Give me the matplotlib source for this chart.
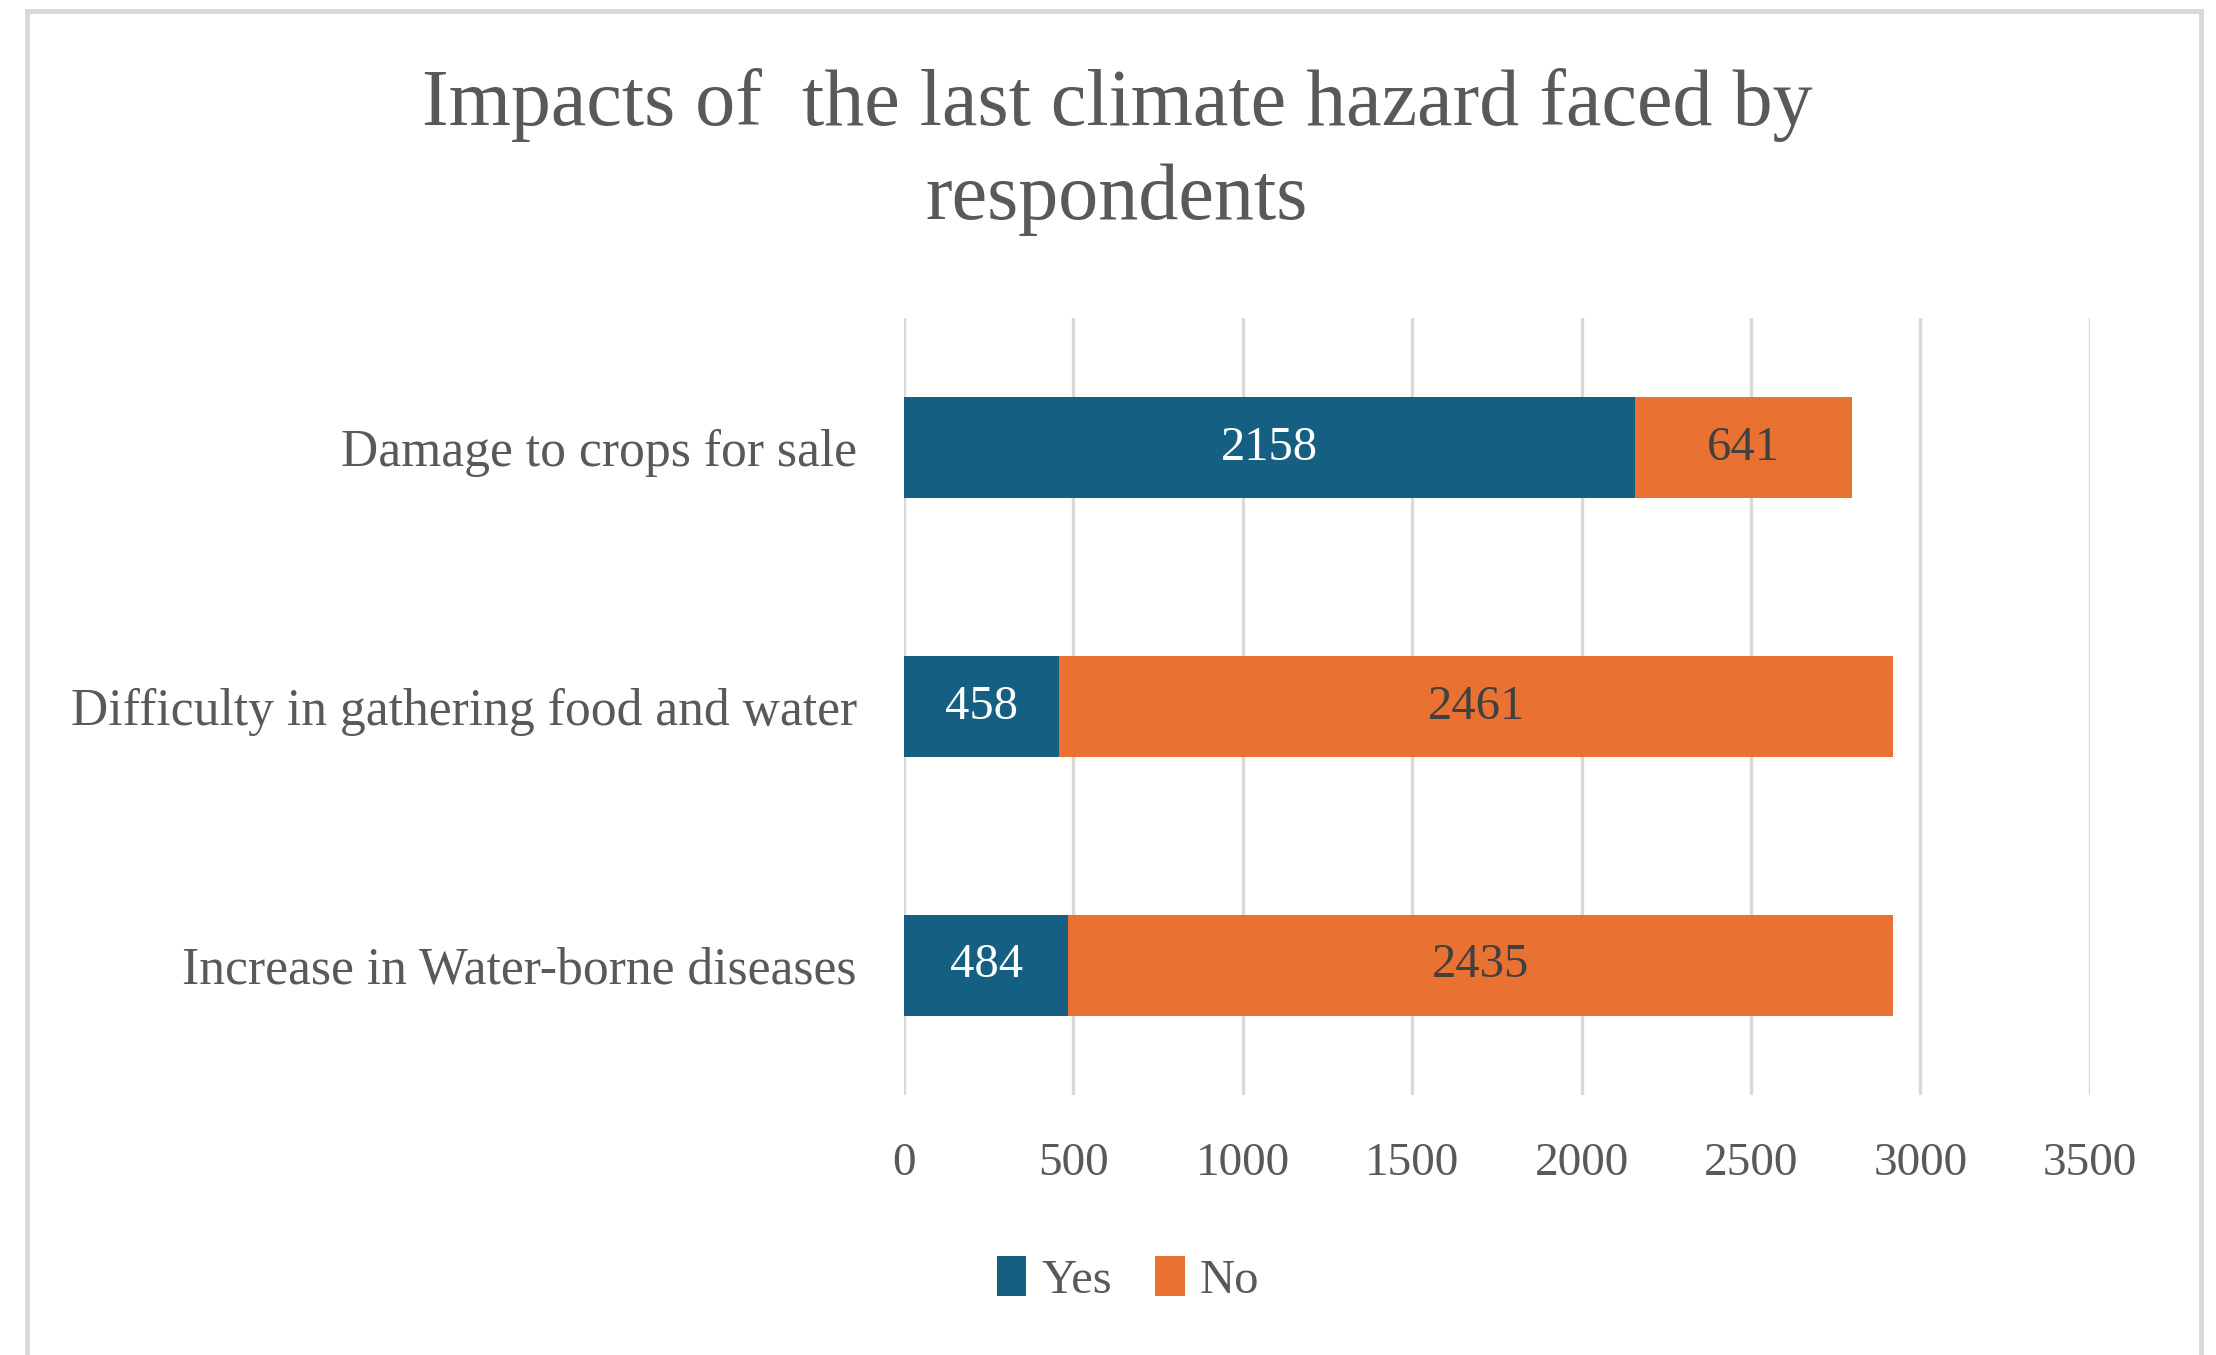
import matplotlib
matplotlib.use("Agg")
from matplotlib import pyplot as plt
from matplotlib.patches import Rectangle

# chart data
categories = ['Increase in Water-borne diseases',
              'Difficulty in gathering food and water',
              'Damage to crops for sale']
yes_values = [484, 458, 2158]
no_values = [2435, 2461, 641]
x_ticks = [0, 500, 1000, 1500, 2000, 2500, 3000, 3500]
title = 'Impacts of  the last climate hazard faced by\nrespondents'

blue = '#156082'
orange = '#E97132'
grey_text = '#595959'
grid_grey = '#D9D9D9'
serif = ['Liberation Serif', 'DejaVu Serif']

fig = plt.figure(figsize=(11.08, 6.775), dpi=200)
ax = fig.add_axes([0.408, 0.192, 0.535, 0.573])

# outer chart frame
fig.patches.append(Rectangle((0.0122, -0.1), 0.9810, 1.092, transform=fig.transFigure,
                             fill=False, edgecolor=grid_grey, linewidth=1.8, zorder=0))

ypos = list(range(len(categories)))
b1 = ax.barh(ypos, yes_values, height=0.39, color=blue, label='Yes', zorder=3)
b2 = ax.barh(ypos, no_values, left=yes_values, height=0.39, color=orange, label='No', zorder=3)

ax.bar_label(b1, labels=[str(v) for v in yes_values], label_type='center',
             color='white', fontsize=17.5, family=serif)
ax.bar_label(b2, labels=[str(v) for v in no_values], label_type='center',
             color='#404040', fontsize=17.5, family=serif)

ax.set_xlim(0, 3500)
ax.set_ylim(-0.5, 2.5)
ax.set_xticks(x_ticks)
ax.set_xticklabels([str(t) for t in x_ticks], fontsize=17, color=grey_text, family=serif)
ax.set_yticks(ypos)
ax.set_yticklabels(categories, fontsize=18.6, color=grey_text, family=serif)
ax.tick_params(axis='both', length=0)
ax.tick_params(axis='y', pad=17)
ax.tick_params(axis='x', pad=17)

ax.grid(axis='x', color=grid_grey, linewidth=1.2, zorder=0)
ax.set_axisbelow(True)
for s in ax.spines.values():
    s.set_visible(False)

fig.text(0.504, 0.888, title, ha='center', va='center', fontsize=28.8,
         color=grey_text, family=serif, linespacing=1.38)

leg = fig.legend(loc='center', bbox_to_anchor=(0.509, 0.056), ncol=2, frameon=False,
                 prop={'family': serif, 'size': 17.5}, handlelength=0.6, handleheight=0.9,
                 handletextpad=0.3, columnspacing=0.9, labelcolor=grey_text)

fig.savefig('out.png', dpi=200, facecolor='white')
